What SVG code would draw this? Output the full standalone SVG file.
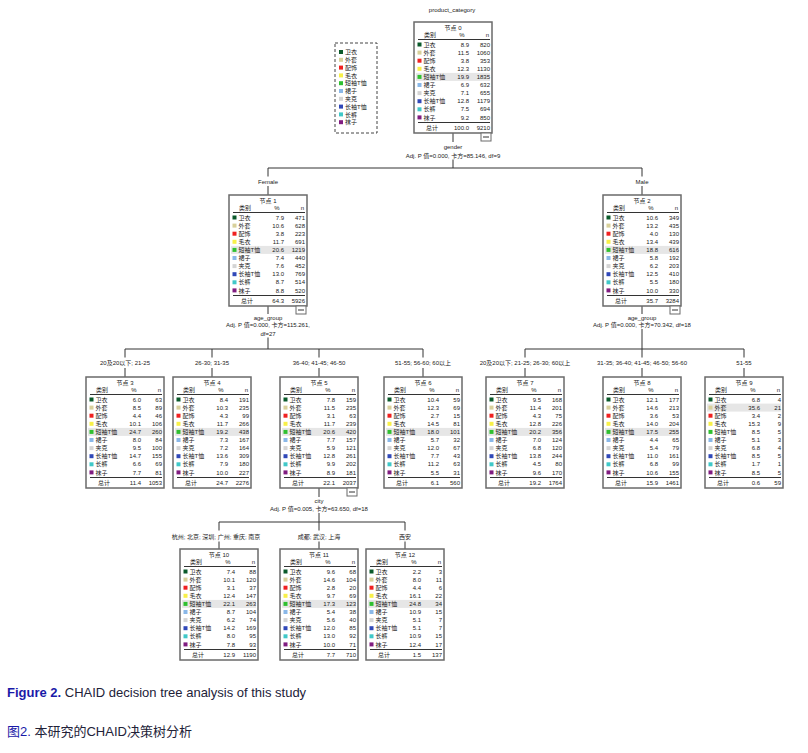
<svg xmlns="http://www.w3.org/2000/svg" xmlns:xlink="http://www.w3.org/1999/xlink" width="808" height="753" viewBox="0 0 808 753">
<style>
.t{font-family:"Liberation Sans","Noto Sans CJK SC",sans-serif;font-size:6px;fill:#222}
.m{text-anchor:middle}
.e{text-anchor:end}
.box{fill:#fff;stroke:#6a6a6a;stroke-width:1.5}
.hl{stroke:#333;stroke-width:1}
.ln{stroke:#333;stroke-width:1;fill:none}
.hi{fill:#e6e6e6}
.mb{fill:#fff;stroke:#6a6a6a;stroke-width:1}
.cap{font-family:"Liberation Sans","Noto Sans CJK SC",sans-serif;font-size:13px;fill:#222238}
.blue{fill:#1a1aa8}
.c0{fill:#0b5a2b}.c1{fill:#d8d09a}.c2{fill:#f02020}.c3{fill:#f8f048}.c4{fill:#30c030}
.c5{fill:#8ab8e8}.c6{fill:#d4d4d4}.c7{fill:#3048b8}.c8{fill:#40c8c8}.c9{fill:#801c80}
</style>
<defs>
<rect id="box" class="box" x="0" y="0" width="78" height="111"/>
<g id="minus"><rect class="mb" x="67" y="111" width="10" height="8"/><line class="hl" x1="69" y1="115" x2="75" y2="115"/></g>
<g id="lbl">
<text class="t" x="10" y="15">类别</text>
<text class="t m" x="48" y="15">%</text>
<text class="t e" x="75" y="15">n</text>
<line class="hl" x1="4" y1="17.5" x2="76" y2="17.5"/>
<rect class="c0" x="3.5" y="20.5" width="4" height="4"/>
<rect class="c1" x="3.5" y="28.6" width="4" height="4"/>
<rect class="c2" x="3.5" y="36.7" width="4" height="4"/>
<rect class="c3" x="3.5" y="44.8" width="4" height="4"/>
<rect class="c4" x="3.5" y="52.9" width="4" height="4"/>
<rect class="c5" x="3.5" y="61" width="4" height="4"/>
<rect class="c6" x="3.5" y="69.1" width="4" height="4"/>
<rect class="c7" x="3.5" y="77.2" width="4" height="4"/>
<rect class="c8" x="3.5" y="85.3" width="4" height="4"/>
<rect class="c9" x="3.5" y="93.4" width="4" height="4"/>
<text class="t"><tspan x="9.5" y="24.6">卫衣</tspan><tspan x="9.5" y="32.7">外套</tspan><tspan x="9.5" y="40.8">配饰</tspan><tspan x="9.5" y="48.9">毛衣</tspan><tspan x="9.5" y="57">短袖T恤</tspan><tspan x="9.5" y="65.1">裙子</tspan><tspan x="9.5" y="73.2">夹克</tspan><tspan x="9.5" y="81.3">长袖T恤</tspan><tspan x="9.5" y="89.4">长裤</tspan><tspan x="9.5" y="97.5">袜子</tspan></text>
<line class="hl" x1="4" y1="100.5" x2="76" y2="100.5"/>
<text class="t" x="12" y="107.5">总计</text>
</g>
<rect id="hi4" class="hi" x="2" y="50.9" width="74" height="8"/>
<rect id="hi1" class="hi" x="2" y="26.6" width="74" height="8"/>
</defs>

<rect x="0" y="0" width="808" height="753" fill="#fff"/>

<g id="legend">
<rect x="335" y="43" width="42" height="90" fill="none" stroke="#444" stroke-width="1" stroke-dasharray="3,2"/>
<rect class="c0" x="339" y="50" width="4" height="4"/>
<rect class="c1" x="339" y="57.8" width="4" height="4"/>
<rect class="c2" x="339" y="65.6" width="4" height="4"/>
<rect class="c3" x="339" y="73.4" width="4" height="4"/>
<rect class="c4" x="339" y="81.2" width="4" height="4"/>
<rect class="c5" x="339" y="89" width="4" height="4"/>
<rect class="c6" x="339" y="96.8" width="4" height="4"/>
<rect class="c7" x="339" y="104.6" width="4" height="4"/>
<rect class="c8" x="339" y="112.4" width="4" height="4"/>
<rect class="c9" x="339" y="120.2" width="4" height="4"/>
<text class="t"><tspan x="345" y="54.1">卫衣</tspan><tspan x="345" y="61.9">外套</tspan><tspan x="345" y="69.7">配饰</tspan><tspan x="345" y="77.5">毛衣</tspan><tspan x="345" y="85.3">短袖T恤</tspan><tspan x="345" y="93.1">裙子</tspan><tspan x="345" y="100.9">夹克</tspan><tspan x="345" y="108.7">长袖T恤</tspan><tspan x="345" y="116.5">长裤</tspan><tspan x="345" y="124.3">袜子</tspan></text>
</g>

<g id="connectors">
<text class="t m" x="452" y="12">product_category</text>
<line class="ln" x1="453" y1="133" x2="453" y2="142"/>
<text class="t m" x="453" y="148.5">gender</text>
<text class="t m" x="453" y="157.5">Adj. P 值=0.000, 卡方=85.146, df=9</text>
<line class="ln" x1="453" y1="159.5" x2="453" y2="168"/>
<line class="ln" x1="268" y1="168" x2="642" y2="168"/>
<line class="ln" x1="268" y1="168" x2="268" y2="176.5"/>
<line class="ln" x1="642" y1="168" x2="642" y2="176.5"/>
<text class="t m" x="268" y="183.5">Female</text>
<text class="t m" x="642" y="183.5">Male</text>
<line class="ln" x1="268" y1="186" x2="268" y2="195"/>
<line class="ln" x1="642" y1="186" x2="642" y2="195"/>

<line class="ln" x1="268" y1="306" x2="268" y2="314"/>
<text class="t m" x="268" y="320">age_group</text>
<text class="t m" x="268" y="327">Adj. P 值=0.000, 卡方=115.261,</text>
<text class="t m" x="268" y="335.5">df=27</text>
<line class="ln" x1="268" y1="337.5" x2="268" y2="349"/>
<line class="ln" x1="125" y1="349" x2="423" y2="349"/>

<line class="ln" x1="642" y1="306" x2="642" y2="314"/>
<text class="t m" x="642" y="320">age_group</text>
<text class="t m" x="642" y="327">Adj. P 值=0.000, 卡方=70.342, df=18</text>
<line class="ln" x1="642" y1="329" x2="642" y2="349"/>
<line class="ln" x1="525" y1="349" x2="744" y2="349"/>

<path class="ln" d="M125 349V357.5M212 349V357.5M319 349V357.5M423 349V357.5M525 349V357.5M642 349V357.5M744 349V357.5"/>
<path class="ln" d="M125 368V377M212 368V377M319 368V377M423 368V377M525 368V377M642 368V377M744 368V377"/>
<text class="t m" x="125" y="365">20及20以下; 21-25</text>
<text class="t m" x="212" y="365">26-30; 31-35</text>
<text class="t m" x="319" y="365">36-40; 41-45; 46-50</text>
<text class="t m" x="423" y="365">51-55; 56-60; 60以上</text>
<text class="t m" x="525" y="365">20及20以下; 21-25; 26-30; 60以上</text>
<text class="t m" x="642" y="365">31-35; 36-40; 41-45; 46-50; 56-60</text>
<text class="t m" x="744" y="365">51-55</text>

<line class="ln" x1="319" y1="488" x2="319" y2="497"/>
<text class="t m" x="319" y="503">city</text>
<text class="t m" x="319" y="511">Adj. P 值=0.005, 卡方=63.650, df=18</text>
<line class="ln" x1="319" y1="513" x2="319" y2="522"/>
<line class="ln" x1="219" y1="522" x2="405" y2="522"/>
<path class="ln" d="M219 522V530.5M319 522V530.5M405 522V530.5M219 541.5V549M319 541.5V549M405 541.5V549"/>
<text class="t m" x="216" y="539">杭州; 北京; 深圳; 广州; 重庆; 南京</text>
<text class="t m" x="319" y="539">成都; 武汉; 上海</text>
<text class="t m" x="405" y="539">西安</text>
</g>

<g id="node0" transform="translate(414,22)">
<use href="#box"/><use href="#hi4"/><use href="#lbl"/><use href="#minus"/>
<text class="t m" x="39" y="8">节点 0</text>
<text class="t e"><tspan x="55" y="24.6">8.9</tspan><tspan x="55" y="32.7">11.5</tspan><tspan x="55" y="40.8">3.8</tspan><tspan x="55" y="48.9">12.3</tspan><tspan x="55" y="57">19.9</tspan><tspan x="55" y="65.1">6.9</tspan><tspan x="55" y="73.2">7.1</tspan><tspan x="55" y="81.3">12.8</tspan><tspan x="55" y="89.4">7.5</tspan><tspan x="55" y="97.5">9.2</tspan><tspan x="55" y="107.5">100.0</tspan></text>
<text class="t e"><tspan x="76" y="24.6">820</tspan><tspan x="76" y="32.7">1060</tspan><tspan x="76" y="40.8">353</tspan><tspan x="76" y="48.9">1130</tspan><tspan x="76" y="57">1835</tspan><tspan x="76" y="65.1">632</tspan><tspan x="76" y="73.2">655</tspan><tspan x="76" y="81.3">1179</tspan><tspan x="76" y="89.4">694</tspan><tspan x="76" y="97.5">850</tspan><tspan x="76" y="107.5">9210</tspan></text>
</g>

<g id="node1" transform="translate(229,195)">
<use href="#box"/><use href="#hi4"/><use href="#lbl"/><use href="#minus"/>
<text class="t m" x="39" y="8">节点 1</text>
<text class="t e"><tspan x="55" y="24.6">7.9</tspan><tspan x="55" y="32.7">10.6</tspan><tspan x="55" y="40.8">3.8</tspan><tspan x="55" y="48.9">11.7</tspan><tspan x="55" y="57">20.6</tspan><tspan x="55" y="65.1">7.4</tspan><tspan x="55" y="73.2">7.6</tspan><tspan x="55" y="81.3">13.0</tspan><tspan x="55" y="89.4">8.7</tspan><tspan x="55" y="97.5">8.8</tspan><tspan x="55" y="107.5">64.3</tspan></text>
<text class="t e"><tspan x="76" y="24.6">471</tspan><tspan x="76" y="32.7">628</tspan><tspan x="76" y="40.8">223</tspan><tspan x="76" y="48.9">691</tspan><tspan x="76" y="57">1219</tspan><tspan x="76" y="65.1">440</tspan><tspan x="76" y="73.2">452</tspan><tspan x="76" y="81.3">769</tspan><tspan x="76" y="89.4">514</tspan><tspan x="76" y="97.5">520</tspan><tspan x="76" y="107.5">5926</tspan></text>
</g>

<g id="node2" transform="translate(603,195)">
<use href="#box"/><use href="#hi4"/><use href="#lbl"/><use href="#minus"/>
<text class="t m" x="39" y="8">节点 2</text>
<text class="t e"><tspan x="55" y="24.6">10.6</tspan><tspan x="55" y="32.7">13.2</tspan><tspan x="55" y="40.8">4.0</tspan><tspan x="55" y="48.9">13.4</tspan><tspan x="55" y="57">18.8</tspan><tspan x="55" y="65.1">5.8</tspan><tspan x="55" y="73.2">6.2</tspan><tspan x="55" y="81.3">12.5</tspan><tspan x="55" y="89.4">5.5</tspan><tspan x="55" y="97.5">10.0</tspan><tspan x="55" y="107.5">35.7</tspan></text>
<text class="t e"><tspan x="76" y="24.6">349</tspan><tspan x="76" y="32.7">435</tspan><tspan x="76" y="40.8">130</tspan><tspan x="76" y="48.9">439</tspan><tspan x="76" y="57">616</tspan><tspan x="76" y="65.1">192</tspan><tspan x="76" y="73.2">203</tspan><tspan x="76" y="81.3">410</tspan><tspan x="76" y="89.4">180</tspan><tspan x="76" y="97.5">330</tspan><tspan x="76" y="107.5">3284</tspan></text>
</g>

<g id="node3" transform="translate(86,377)">
<use href="#box"/><use href="#hi4"/><use href="#lbl"/>
<text class="t m" x="39" y="8">节点 3</text>
<text class="t e"><tspan x="55" y="24.6">6.0</tspan><tspan x="55" y="32.7">8.5</tspan><tspan x="55" y="40.8">4.4</tspan><tspan x="55" y="48.9">10.1</tspan><tspan x="55" y="57">24.7</tspan><tspan x="55" y="65.1">8.0</tspan><tspan x="55" y="73.2">9.5</tspan><tspan x="55" y="81.3">14.7</tspan><tspan x="55" y="89.4">6.6</tspan><tspan x="55" y="97.5">7.7</tspan><tspan x="55" y="107.5">11.4</tspan></text>
<text class="t e"><tspan x="76" y="24.6">63</tspan><tspan x="76" y="32.7">89</tspan><tspan x="76" y="40.8">46</tspan><tspan x="76" y="48.9">106</tspan><tspan x="76" y="57">260</tspan><tspan x="76" y="65.1">84</tspan><tspan x="76" y="73.2">100</tspan><tspan x="76" y="81.3">155</tspan><tspan x="76" y="89.4">69</tspan><tspan x="76" y="97.5">81</tspan><tspan x="76" y="107.5">1053</tspan></text>
</g>

<g id="node4" transform="translate(173,377)">
<use href="#box"/><use href="#hi4"/><use href="#lbl"/>
<text class="t m" x="39" y="8">节点 4</text>
<text class="t e"><tspan x="55" y="24.6">8.4</tspan><tspan x="55" y="32.7">10.3</tspan><tspan x="55" y="40.8">4.3</tspan><tspan x="55" y="48.9">11.7</tspan><tspan x="55" y="57">19.2</tspan><tspan x="55" y="65.1">7.3</tspan><tspan x="55" y="73.2">7.2</tspan><tspan x="55" y="81.3">13.6</tspan><tspan x="55" y="89.4">7.9</tspan><tspan x="55" y="97.5">10.0</tspan><tspan x="55" y="107.5">24.7</tspan></text>
<text class="t e"><tspan x="76" y="24.6">191</tspan><tspan x="76" y="32.7">235</tspan><tspan x="76" y="40.8">99</tspan><tspan x="76" y="48.9">266</tspan><tspan x="76" y="57">438</tspan><tspan x="76" y="65.1">167</tspan><tspan x="76" y="73.2">164</tspan><tspan x="76" y="81.3">309</tspan><tspan x="76" y="89.4">180</tspan><tspan x="76" y="97.5">227</tspan><tspan x="76" y="107.5">2276</tspan></text>
</g>

<g id="node5" transform="translate(280,377)">
<use href="#box"/><use href="#hi4"/><use href="#lbl"/><use href="#minus"/>
<text class="t m" x="39" y="8">节点 5</text>
<text class="t e"><tspan x="55" y="24.6">7.8</tspan><tspan x="55" y="32.7">11.5</tspan><tspan x="55" y="40.8">3.1</tspan><tspan x="55" y="48.9">11.7</tspan><tspan x="55" y="57">20.6</tspan><tspan x="55" y="65.1">7.7</tspan><tspan x="55" y="73.2">5.9</tspan><tspan x="55" y="81.3">12.8</tspan><tspan x="55" y="89.4">9.9</tspan><tspan x="55" y="97.5">8.9</tspan><tspan x="55" y="107.5">22.1</tspan></text>
<text class="t e"><tspan x="76" y="24.6">159</tspan><tspan x="76" y="32.7">235</tspan><tspan x="76" y="40.8">63</tspan><tspan x="76" y="48.9">239</tspan><tspan x="76" y="57">420</tspan><tspan x="76" y="65.1">157</tspan><tspan x="76" y="73.2">121</tspan><tspan x="76" y="81.3">261</tspan><tspan x="76" y="89.4">202</tspan><tspan x="76" y="97.5">181</tspan><tspan x="76" y="107.5">2037</tspan></text>
</g>

<g id="node6" transform="translate(384,377)">
<use href="#box"/><use href="#hi4"/><use href="#lbl"/>
<text class="t m" x="39" y="8">节点 6</text>
<text class="t e"><tspan x="55" y="24.6">10.4</tspan><tspan x="55" y="32.7">12.3</tspan><tspan x="55" y="40.8">2.7</tspan><tspan x="55" y="48.9">14.5</tspan><tspan x="55" y="57">18.0</tspan><tspan x="55" y="65.1">5.7</tspan><tspan x="55" y="73.2">12.0</tspan><tspan x="55" y="81.3">7.7</tspan><tspan x="55" y="89.4">11.2</tspan><tspan x="55" y="97.5">5.5</tspan><tspan x="55" y="107.5">6.1</tspan></text>
<text class="t e"><tspan x="76" y="24.6">59</tspan><tspan x="76" y="32.7">69</tspan><tspan x="76" y="40.8">15</tspan><tspan x="76" y="48.9">81</tspan><tspan x="76" y="57">101</tspan><tspan x="76" y="65.1">32</tspan><tspan x="76" y="73.2">67</tspan><tspan x="76" y="81.3">43</tspan><tspan x="76" y="89.4">63</tspan><tspan x="76" y="97.5">31</tspan><tspan x="76" y="107.5">560</tspan></text>
</g>

<g id="node7" transform="translate(486,377)">
<use href="#box"/><use href="#hi4"/><use href="#lbl"/>
<text class="t m" x="39" y="8">节点 7</text>
<text class="t e"><tspan x="55" y="24.6">9.5</tspan><tspan x="55" y="32.7">11.4</tspan><tspan x="55" y="40.8">4.3</tspan><tspan x="55" y="48.9">12.8</tspan><tspan x="55" y="57">20.2</tspan><tspan x="55" y="65.1">7.0</tspan><tspan x="55" y="73.2">6.8</tspan><tspan x="55" y="81.3">13.8</tspan><tspan x="55" y="89.4">4.5</tspan><tspan x="55" y="97.5">9.6</tspan><tspan x="55" y="107.5">19.2</tspan></text>
<text class="t e"><tspan x="76" y="24.6">168</tspan><tspan x="76" y="32.7">201</tspan><tspan x="76" y="40.8">75</tspan><tspan x="76" y="48.9">226</tspan><tspan x="76" y="57">356</tspan><tspan x="76" y="65.1">124</tspan><tspan x="76" y="73.2">120</tspan><tspan x="76" y="81.3">244</tspan><tspan x="76" y="89.4">80</tspan><tspan x="76" y="97.5">170</tspan><tspan x="76" y="107.5">1764</tspan></text>
</g>

<g id="node8" transform="translate(603,377)">
<use href="#box"/><use href="#hi4"/><use href="#lbl"/>
<text class="t m" x="39" y="8">节点 8</text>
<text class="t e"><tspan x="55" y="24.6">12.1</tspan><tspan x="55" y="32.7">14.6</tspan><tspan x="55" y="40.8">3.6</tspan><tspan x="55" y="48.9">14.0</tspan><tspan x="55" y="57">17.5</tspan><tspan x="55" y="65.1">4.4</tspan><tspan x="55" y="73.2">5.4</tspan><tspan x="55" y="81.3">11.0</tspan><tspan x="55" y="89.4">6.8</tspan><tspan x="55" y="97.5">10.6</tspan><tspan x="55" y="107.5">15.9</tspan></text>
<text class="t e"><tspan x="76" y="24.6">177</tspan><tspan x="76" y="32.7">213</tspan><tspan x="76" y="40.8">53</tspan><tspan x="76" y="48.9">204</tspan><tspan x="76" y="57">255</tspan><tspan x="76" y="65.1">65</tspan><tspan x="76" y="73.2">79</tspan><tspan x="76" y="81.3">161</tspan><tspan x="76" y="89.4">99</tspan><tspan x="76" y="97.5">155</tspan><tspan x="76" y="107.5">1461</tspan></text>
</g>

<g id="node9" transform="translate(705,377)">
<use href="#box"/><use href="#hi1"/><use href="#lbl"/>
<text class="t m" x="39" y="8">节点 9</text>
<text class="t e"><tspan x="55" y="24.6">6.8</tspan><tspan x="55" y="32.7">35.6</tspan><tspan x="55" y="40.8">3.4</tspan><tspan x="55" y="48.9">15.3</tspan><tspan x="55" y="57">8.5</tspan><tspan x="55" y="65.1">5.1</tspan><tspan x="55" y="73.2">6.8</tspan><tspan x="55" y="81.3">8.5</tspan><tspan x="55" y="89.4">1.7</tspan><tspan x="55" y="97.5">8.5</tspan><tspan x="55" y="107.5">0.6</tspan></text>
<text class="t e"><tspan x="76" y="24.6">4</tspan><tspan x="76" y="32.7">21</tspan><tspan x="76" y="40.8">2</tspan><tspan x="76" y="48.9">9</tspan><tspan x="76" y="57">5</tspan><tspan x="76" y="65.1">3</tspan><tspan x="76" y="73.2">4</tspan><tspan x="76" y="81.3">5</tspan><tspan x="76" y="89.4">1</tspan><tspan x="76" y="97.5">5</tspan><tspan x="76" y="107.5">59</tspan></text>
</g>

<g id="node10" transform="translate(180,549)">
<use href="#box"/><use href="#hi4"/><use href="#lbl"/>
<text class="t m" x="39" y="8">节点 10</text>
<text class="t e"><tspan x="55" y="24.6">7.4</tspan><tspan x="55" y="32.7">10.1</tspan><tspan x="55" y="40.8">3.1</tspan><tspan x="55" y="48.9">12.4</tspan><tspan x="55" y="57">22.1</tspan><tspan x="55" y="65.1">8.7</tspan><tspan x="55" y="73.2">6.2</tspan><tspan x="55" y="81.3">14.2</tspan><tspan x="55" y="89.4">8.0</tspan><tspan x="55" y="97.5">7.8</tspan><tspan x="55" y="107.5">12.9</tspan></text>
<text class="t e"><tspan x="76" y="24.6">88</tspan><tspan x="76" y="32.7">120</tspan><tspan x="76" y="40.8">37</tspan><tspan x="76" y="48.9">147</tspan><tspan x="76" y="57">263</tspan><tspan x="76" y="65.1">104</tspan><tspan x="76" y="73.2">74</tspan><tspan x="76" y="81.3">169</tspan><tspan x="76" y="89.4">95</tspan><tspan x="76" y="97.5">93</tspan><tspan x="76" y="107.5">1190</tspan></text>
</g>

<g id="node11" transform="translate(280,549)">
<use href="#box"/><use href="#hi4"/><use href="#lbl"/>
<text class="t m" x="39" y="8">节点 11</text>
<text class="t e"><tspan x="55" y="24.6">9.6</tspan><tspan x="55" y="32.7">14.6</tspan><tspan x="55" y="40.8">2.8</tspan><tspan x="55" y="48.9">9.7</tspan><tspan x="55" y="57">17.3</tspan><tspan x="55" y="65.1">5.4</tspan><tspan x="55" y="73.2">5.6</tspan><tspan x="55" y="81.3">12.0</tspan><tspan x="55" y="89.4">13.0</tspan><tspan x="55" y="97.5">10.0</tspan><tspan x="55" y="107.5">7.7</tspan></text>
<text class="t e"><tspan x="76" y="24.6">68</tspan><tspan x="76" y="32.7">104</tspan><tspan x="76" y="40.8">20</tspan><tspan x="76" y="48.9">69</tspan><tspan x="76" y="57">123</tspan><tspan x="76" y="65.1">38</tspan><tspan x="76" y="73.2">40</tspan><tspan x="76" y="81.3">85</tspan><tspan x="76" y="89.4">92</tspan><tspan x="76" y="97.5">71</tspan><tspan x="76" y="107.5">710</tspan></text>
</g>

<g id="node12" transform="translate(366,549)">
<use href="#box"/><use href="#hi4"/><use href="#lbl"/>
<text class="t m" x="39" y="8">节点 12</text>
<text class="t e"><tspan x="55" y="24.6">2.2</tspan><tspan x="55" y="32.7">8.0</tspan><tspan x="55" y="40.8">4.4</tspan><tspan x="55" y="48.9">16.1</tspan><tspan x="55" y="57">24.8</tspan><tspan x="55" y="65.1">10.9</tspan><tspan x="55" y="73.2">5.1</tspan><tspan x="55" y="81.3">5.1</tspan><tspan x="55" y="89.4">10.9</tspan><tspan x="55" y="97.5">12.4</tspan><tspan x="55" y="107.5">1.5</tspan></text>
<text class="t e"><tspan x="76" y="24.6">3</tspan><tspan x="76" y="32.7">11</tspan><tspan x="76" y="40.8">6</tspan><tspan x="76" y="48.9">22</tspan><tspan x="76" y="57">34</tspan><tspan x="76" y="65.1">15</tspan><tspan x="76" y="73.2">7</tspan><tspan x="76" y="81.3">7</tspan><tspan x="76" y="89.4">15</tspan><tspan x="76" y="97.5">17</tspan><tspan x="76" y="107.5">137</tspan></text>
</g>

<g id="caption">
<text class="cap" x="7" y="697"><tspan class="blue" font-weight="bold">Figure 2.</tspan> CHAID decision tree analysis of this study</text>
<text class="cap" x="7" y="736"><tspan class="blue">图2.</tspan> 本研究的CHAID决策树分析</text>
</g>
</svg>
